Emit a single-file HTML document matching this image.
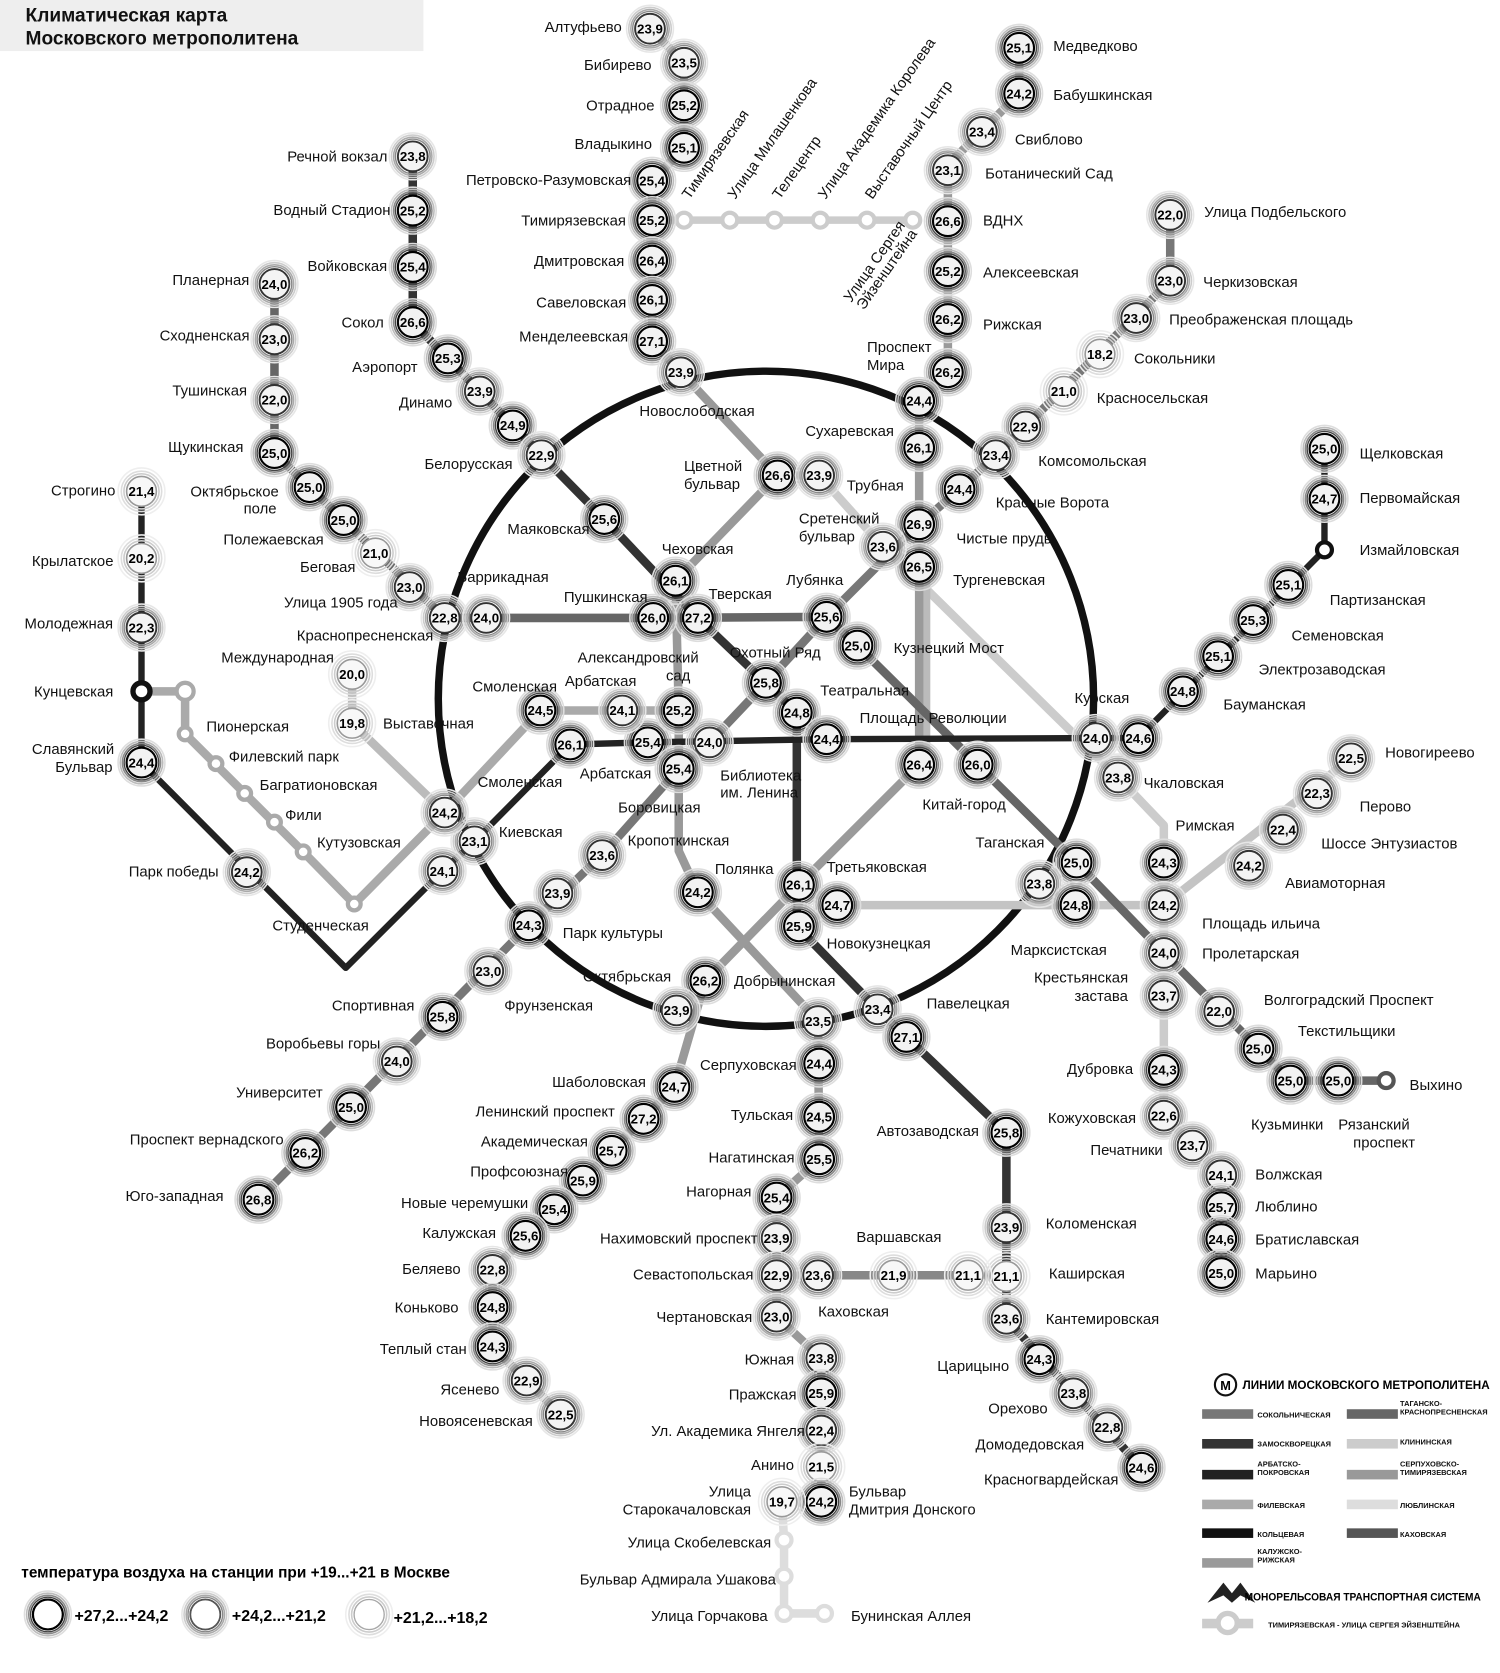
<!DOCTYPE html>
<html><head><meta charset="utf-8"><style>
html,body{margin:0;padding:0;background:#fff}
svg{display:block}
.l{font-family:"Liberation Sans Narrow","Liberation Sans",sans-serif;font-size:14px;fill:#111}
.n{font-family:"Liberation Sans",sans-serif;font-size:12.5px;font-weight:bold;fill:#000;text-anchor:middle}
.e{text-anchor:end}
.t{font-family:"Liberation Sans",sans-serif;font-weight:bold;font-size:18px;fill:#111}
.g{font-family:"Liberation Sans",sans-serif;font-weight:bold;font-size:7px;fill:#111}
</style></head><body>
<svg width="1500" height="1673" viewBox="0 0 1410 1573" preserveAspectRatio="none" xmlns="http://www.w3.org/2000/svg">
<defs>
<g id="a"><circle r="22" fill="none" stroke="#ddd" stroke-width="1.5"/><circle r="20" fill="none" stroke="#bbb" stroke-width="1.5"/><circle r="18" fill="none" stroke="#888" stroke-width="1.5"/><circle r="16.3" fill="none" stroke="#444" stroke-width="1.3"/><circle r="14" fill="#f2f2f2" stroke="#000" stroke-width="2"/></g>
<g id="b"><circle r="22" fill="none" stroke="#e6e6e6" stroke-width="1.5"/><circle r="20" fill="none" stroke="#ccc" stroke-width="1.5"/><circle r="18" fill="none" stroke="#aaa" stroke-width="1.5"/><circle r="16.3" fill="none" stroke="#888" stroke-width="1.3"/><circle r="14" fill="#f4f4f4" stroke="#333" stroke-width="1.8"/></g>
<g id="c"><circle r="22" fill="none" stroke="#eee" stroke-width="1.5"/><circle r="19" fill="none" stroke="#ddd" stroke-width="1.5"/><circle r="16.5" fill="none" stroke="#ccc" stroke-width="1.5"/><circle r="14" fill="#f8f8f8" stroke="#999" stroke-width="1.5"/></g>
</defs>
<rect x="0" y="0" width="398" height="48" fill="#eee"/>
<text class="t" x="24" y="20">Климатическая карта</text>
<text class="t" x="24" y="42">Московского метрополитена</text>

<circle cx="720" cy="657" r="308" fill="none" stroke="#111" stroke-width="7"/>

<g fill="none" stroke-linejoin="round" stroke-linecap="round">
<polyline points="770,447 830,514 1051,731 1094,776 1094,1049 1148,1105 1148,1197" stroke="#ccc" stroke-width="8"/>
<polyline points="787,851 1094,851 1270,713" stroke="#c4c4c4" stroke-width="8"/>
<line x1="871" y1="540" x2="871" y2="719" stroke="#bbb" stroke-width="7"/>
<polyline points="611,27 643,59 643,139 613,170 613,321 640,350 731,447 635,546 638,668 638,800 656,839 769,960 770,1090 730,1126 730,1238 772,1277 772,1412" stroke="#999" stroke-width="8"/>
<polyline points="735,1412 737,1448 737,1517 775,1517" stroke="#ddd" stroke-width="8"/>
<polyline points="958,45 958,88 891,155 891,350 864,377 864,719 751,832 663,922 634,1022 463,1194 463,1266 527,1330" stroke="#9a9a9a" stroke-width="8"/>
<polyline points="133,650 174,650 174,690 285,801 333,850 418,764 508,668 638,668" stroke="#aaa" stroke-width="8"/>
<polyline points="331,634 331,680 418,764" stroke="#bbb" stroke-width="8"/>
<polyline points="258,267 258,426 418,581 614,581 777,580 806,607 919,719 1012,811 1094,896 1183,986 1213,1016 1303,1016" stroke="#666" stroke-width="8"/>
<polyline points="1100,202 1100,264 964,401 936,428 902,460 864,493 777,580 720,642 667,698 638,723 566,804 497,870 243,1128" stroke="#777" stroke-width="8"/>
<polyline points="388,147 388,303 509,428 568,488 656,581 749,670 749,871 825,949 852,975 946,1065 946,1240 1073,1380" stroke="#333" stroke-width="8"/>
<line x1="769" y1="1199" x2="946" y2="1199" stroke="#888" stroke-width="8"/>
<polyline points="1245,422 1245,517 1070,694 1030,694 777,695 609,698 536,700 446,791 416,819 325,910 133,717 133,462" stroke="#222" stroke-width="6"/>
<line x1="613" y1="207" x2="858" y2="207" stroke="#ccc" stroke-width="7"/>
</g>
<g fill="#fff" stroke="#ccc" stroke-width="4">
<circle cx="643" cy="207" r="7"/><circle cx="686" cy="207" r="7"/><circle cx="728" cy="207" r="7"/><circle cx="771" cy="207" r="7"/><circle cx="815" cy="207" r="7"/><circle cx="858" cy="207" r="7"/>
<circle cx="737" cy="1448" r="7" stroke="#ddd"/><circle cx="737" cy="1482" r="7" stroke="#ddd"/><circle cx="737" cy="1517" r="7" stroke="#ddd"/><circle cx="775" cy="1517" r="7" stroke="#ddd"/>
<circle cx="174" cy="650" r="8" stroke="#aaa"/><circle cx="174" cy="690" r="6" stroke="#aaa"/><circle cx="203" cy="718" r="6" stroke="#aaa"/><circle cx="230" cy="746" r="6" stroke="#aaa"/><circle cx="258" cy="773" r="6" stroke="#aaa"/><circle cx="285" cy="801" r="6" stroke="#aaa"/><circle cx="333" cy="850" r="6" stroke="#aaa"/>
<circle cx="133" cy="650" r="8" stroke="#111" stroke-width="5"/><circle cx="1245" cy="517" r="7" stroke="#111" stroke-width="4"/><circle cx="1303" cy="1016" r="7" stroke="#555" stroke-width="4"/>
</g>

<g id="st">
<use href="#b" x="611" y="27"/><use href="#b" x="643" y="59"/><use href="#a" x="643" y="99"/><use href="#a" x="643" y="139"/><use href="#a" x="613" y="170"/><use href="#a" x="613" y="207"/><use href="#a" x="613" y="245"/><use href="#a" x="613" y="282"/><use href="#a" x="613" y="321"/><use href="#b" x="640" y="350"/>
<use href="#a" x="958" y="45"/><use href="#a" x="958" y="88"/><use href="#b" x="923" y="124"/><use href="#b" x="891" y="160"/><use href="#a" x="891" y="208"/><use href="#a" x="891" y="255"/><use href="#a" x="891" y="300"/><use href="#a" x="891" y="350"/><use href="#a" x="864" y="377"/><use href="#a" x="864" y="421"/><use href="#a" x="864" y="493"/><use href="#a" x="864" y="533"/><use href="#a" x="864" y="719"/><use href="#a" x="919" y="719"/>
<use href="#a" x="751" y="832"/><use href="#a" x="787" y="851"/><use href="#a" x="751" y="871"/><use href="#a" x="663" y="922"/><use href="#b" x="636" y="950"/><use href="#b" x="769" y="960"/><use href="#b" x="825" y="949"/><use href="#a" x="852" y="975"/>
<use href="#a" x="634" y="1022"/><use href="#a" x="605" y="1052"/><use href="#a" x="575" y="1082"/><use href="#a" x="548" y="1110"/><use href="#a" x="521" y="1137"/><use href="#a" x="494" y="1162"/><use href="#b" x="463" y="1194"/><use href="#a" x="463" y="1229"/><use href="#a" x="463" y="1266"/><use href="#b" x="495" y="1298"/><use href="#b" x="527" y="1330"/>
<use href="#b" x="1100" y="202"/><use href="#b" x="1100" y="264"/><use href="#b" x="1068" y="299"/><use href="#c" x="1034" y="333"/><use href="#c" x="1000" y="368"/><use href="#b" x="964" y="401"/><use href="#b" x="936" y="428"/><use href="#a" x="902" y="460"/>
<use href="#a" x="777" y="580"/><use href="#a" x="720" y="642"/><use href="#b" x="667" y="698"/><use href="#b" x="566" y="804"/><use href="#b" x="524" y="840"/><use href="#a" x="497" y="870"/><use href="#b" x="459" y="913"/><use href="#a" x="416" y="956"/><use href="#b" x="373" y="998"/><use href="#a" x="330" y="1041"/><use href="#a" x="287" y="1084"/><use href="#a" x="243" y="1128"/>
<use href="#b" x="388" y="147"/><use href="#a" x="388" y="198"/><use href="#a" x="388" y="251"/><use href="#a" x="388" y="303"/><use href="#a" x="421" y="337"/><use href="#b" x="451" y="368"/><use href="#a" x="482" y="400"/><use href="#b" x="509" y="428"/><use href="#a" x="568" y="488"/><use href="#a" x="635" y="546"/><use href="#a" x="656" y="581"/><use href="#a" x="749" y="670"/><use href="#a" x="946" y="1065"/><use href="#b" x="946" y="1154"/><use href="#c" x="946" y="1200"/><use href="#b" x="946" y="1240"/><use href="#a" x="977" y="1278"/><use href="#b" x="1009" y="1310"/><use href="#b" x="1041" y="1342"/><use href="#a" x="1073" y="1380"/>
<use href="#b" x="769" y="1199"/><use href="#c" x="840" y="1199"/><use href="#c" x="910" y="1199"/>
<use href="#b" x="258" y="267"/><use href="#b" x="258" y="319"/><use href="#b" x="258" y="376"/><use href="#a" x="258" y="426"/><use href="#a" x="291" y="458"/><use href="#a" x="323" y="489"/><use href="#c" x="353" y="520"/><use href="#b" x="385" y="552"/><use href="#b" x="418" y="581"/><use href="#b" x="457" y="581"/><use href="#a" x="614" y="581"/><use href="#a" x="806" y="607"/><use href="#a" x="1012" y="811"/><use href="#b" x="977" y="831"/><use href="#b" x="1094" y="896"/><use href="#b" x="1146" y="951"/><use href="#a" x="1183" y="986"/><use href="#a" x="1213" y="1016"/><use href="#a" x="1258" y="1016"/>
<use href="#b" x="1051" y="731"/><use href="#a" x="1094" y="811"/><use href="#b" x="1094" y="851"/><use href="#b" x="1094" y="936"/><use href="#a" x="1094" y="1006"/><use href="#b" x="1094" y="1049"/><use href="#b" x="1121" y="1077"/><use href="#b" x="1148" y="1105"/><use href="#a" x="1148" y="1135"/><use href="#a" x="1148" y="1165"/><use href="#a" x="1148" y="1197"/>
<use href="#b" x="1270" y="713"/><use href="#b" x="1238" y="746"/><use href="#b" x="1206" y="780"/><use href="#b" x="1174" y="814"/><use href="#a" x="1011" y="851"/>
<use href="#a" x="1245" y="422"/><use href="#a" x="1245" y="469"/><use href="#a" x="1211" y="550"/><use href="#a" x="1178" y="583"/><use href="#a" x="1145" y="617"/><use href="#a" x="1112" y="650"/><use href="#a" x="1070" y="694"/><use href="#b" x="1030" y="694"/><use href="#a" x="777" y="695"/><use href="#a" x="609" y="698"/><use href="#a" x="536" y="700"/><use href="#b" x="446" y="791"/><use href="#b" x="416" y="819"/><use href="#b" x="232" y="820"/><use href="#a" x="133" y="717"/><use href="#c" x="133" y="462"/><use href="#c" x="133" y="525"/><use href="#b" x="133" y="590"/>
<use href="#a" x="508" y="668"/><use href="#b" x="585" y="668"/><use href="#a" x="638" y="668"/><use href="#a" x="638" y="723"/><use href="#b" x="418" y="764"/><use href="#c" x="331" y="634"/><use href="#c" x="331" y="680"/>
<use href="#a" x="731" y="447"/><use href="#b" x="770" y="447"/><use href="#b" x="830" y="514"/><use href="#a" x="656" y="839"/>
<use href="#a" x="770" y="1000"/><use href="#a" x="770" y="1050"/><use href="#a" x="770" y="1090"/><use href="#a" x="730" y="1126"/><use href="#b" x="730" y="1164"/><use href="#b" x="730" y="1199"/><use href="#b" x="730" y="1238"/><use href="#b" x="772" y="1277"/><use href="#a" x="772" y="1310"/><use href="#b" x="772" y="1345"/><use href="#c" x="772" y="1379"/><use href="#a" x="772" y="1412"/><use href="#c" x="735" y="1412"/>
</g>

<g class="n" transform="translate(0,4.5)">
<text x="611" y="27">23,9</text><text x="643" y="59">23,5</text><text x="643" y="99">25,2</text><text x="643" y="139">25,1</text><text x="613" y="170">25,4</text><text x="613" y="207">25,2</text><text x="613" y="245">26,4</text><text x="613" y="282">26,1</text><text x="613" y="321">27,1</text><text x="640" y="350">23,9</text>
<text x="958" y="45">25,1</text><text x="958" y="88">24,2</text><text x="923" y="124">23,4</text><text x="891" y="160">23,1</text><text x="891" y="208">26,6</text><text x="891" y="255">25,2</text><text x="891" y="300">26,2</text><text x="891" y="350">26,2</text><text x="864" y="377">24,4</text><text x="864" y="421">26,1</text><text x="864" y="493">26,9</text><text x="864" y="533">26,5</text><text x="864" y="719">26,4</text><text x="919" y="719">26,0</text>
<text x="751" y="832">26,1</text><text x="787" y="851">24,7</text><text x="751" y="871">25,9</text><text x="663" y="922">26,2</text><text x="636" y="950">23,9</text><text x="769" y="960">23,5</text><text x="825" y="949">23,4</text><text x="852" y="975">27,1</text>
<text x="634" y="1022">24,7</text><text x="605" y="1052">27,2</text><text x="575" y="1082">25,7</text><text x="548" y="1110">25,9</text><text x="521" y="1137">25,4</text><text x="494" y="1162">25,6</text><text x="463" y="1194">22,8</text><text x="463" y="1229">24,8</text><text x="463" y="1266">24,3</text><text x="495" y="1298">22,9</text><text x="527" y="1330">22,5</text>
<text x="1100" y="202">22,0</text><text x="1100" y="264">23,0</text><text x="1068" y="299">23,0</text><text x="1034" y="333">18,2</text><text x="1000" y="368">21,0</text><text x="964" y="401">22,9</text><text x="936" y="428">23,4</text><text x="902" y="460">24,4</text>
<text x="777" y="580">25,6</text><text x="720" y="642">25,8</text><text x="667" y="698">24,0</text><text x="566" y="804">23,6</text><text x="524" y="840">23,9</text><text x="497" y="870">24,3</text><text x="459" y="913">23,0</text><text x="416" y="956">25,8</text><text x="373" y="998">24,0</text><text x="330" y="1041">25,0</text><text x="287" y="1084">26,2</text><text x="243" y="1128">26,8</text>
<text x="388" y="147">23,8</text><text x="388" y="198">25,2</text><text x="388" y="251">25,4</text><text x="388" y="303">26,6</text><text x="421" y="337">25,3</text><text x="451" y="368">23,9</text><text x="482" y="400">24,9</text><text x="509" y="428">22,9</text><text x="568" y="488">25,6</text><text x="635" y="546">26,1</text><text x="656" y="581">27,2</text><text x="749" y="670">24,8</text><text x="946" y="1065">25,8</text><text x="946" y="1154">23,9</text><text x="946" y="1200">21,1</text><text x="946" y="1240">23,6</text><text x="977" y="1278">24,3</text><text x="1009" y="1310">23,8</text><text x="1041" y="1342">22,8</text><text x="1073" y="1380">24,6</text>
<text x="769" y="1199">23,6</text><text x="840" y="1199">21,9</text><text x="910" y="1199">21,1</text>
<text x="258" y="267">24,0</text><text x="258" y="319">23,0</text><text x="258" y="376">22,0</text><text x="258" y="426">25,0</text><text x="291" y="458">25,0</text><text x="323" y="489">25,0</text><text x="353" y="520">21,0</text><text x="385" y="552">23,0</text><text x="418" y="581">22,8</text><text x="457" y="581">24,0</text><text x="614" y="581">26,0</text><text x="806" y="607">25,0</text><text x="1012" y="811">25,0</text><text x="977" y="831">23,8</text><text x="1094" y="896">24,0</text><text x="1146" y="951">22,0</text><text x="1183" y="986">25,0</text><text x="1213" y="1016">25,0</text><text x="1258" y="1016">25,0</text>
<text x="1051" y="731">23,8</text><text x="1094" y="811">24,3</text><text x="1094" y="851">24,2</text><text x="1094" y="936">23,7</text><text x="1094" y="1006">24,3</text><text x="1094" y="1049">22,6</text><text x="1121" y="1077">23,7</text><text x="1148" y="1105">24,1</text><text x="1148" y="1135">25,7</text><text x="1148" y="1165">24,6</text><text x="1148" y="1197">25,0</text>
<text x="1270" y="713">22,5</text><text x="1238" y="746">22,3</text><text x="1206" y="780">22,4</text><text x="1174" y="814">24,2</text><text x="1011" y="851">24,8</text>
<text x="1245" y="422">25,0</text><text x="1245" y="469">24,7</text><text x="1211" y="550">25,1</text><text x="1178" y="583">25,3</text><text x="1145" y="617">25,1</text><text x="1112" y="650">24,8</text><text x="1070" y="694">24,6</text><text x="1030" y="694">24,0</text><text x="777" y="695">24,4</text><text x="609" y="698">25,4</text><text x="536" y="700">26,1</text><text x="446" y="791">23,1</text><text x="416" y="819">24,1</text><text x="232" y="820">24,2</text><text x="133" y="717">24,4</text><text x="133" y="462">21,4</text><text x="133" y="525">20,2</text><text x="133" y="590">22,3</text>
<text x="508" y="668">24,5</text><text x="585" y="668">24,1</text><text x="638" y="668">25,2</text><text x="638" y="723">25,4</text><text x="418" y="764">24,2</text><text x="331" y="634">20,0</text><text x="331" y="680">19,8</text>
<text x="731" y="447">26,6</text><text x="770" y="447">23,9</text><text x="830" y="514">23,6</text><text x="656" y="839">24,2</text>
<text x="770" y="1000">24,4</text><text x="770" y="1050">24,5</text><text x="770" y="1090">25,5</text><text x="730" y="1126">25,4</text><text x="730" y="1164">23,9</text><text x="730" y="1199">22,9</text><text x="730" y="1238">23,0</text><text x="772" y="1277">23,8</text><text x="772" y="1310">25,9</text><text x="772" y="1345">22,4</text><text x="772" y="1379">21,5</text><text x="772" y="1412">24,2</text><text x="735" y="1412">19,7</text>
</g>

<g class="l" transform="translate(0,5)">
<text x="512" y="25">Алтуфьево</text><text x="549" y="61">Бибирево</text><text x="551" y="99">Отрадное</text><text x="540" y="135">Владыкино</text><text x="438" y="169">Петровско-Разумовская</text><text x="490" y="207">Тимирязевская</text><text x="502" y="245">Дмитровская</text><text x="504" y="284">Савеловская</text><text x="488" y="316">Менделеевская</text><text x="601" y="386">Новослободская</text>
<text x="990" y="43">Медведково</text><text x="990" y="89">Бабушкинская</text><text x="954" y="131">Свиблово</text><text x="926" y="163">Ботанический Сад</text><text x="924" y="207">ВДНХ</text><text x="924" y="256">Алексеевская</text><text x="924" y="305">Рижская</text><text x="815" y="326">Проспект</text><text x="815" y="343">Мира</text><text x="757" y="405">Сухаревская</text><text x="796" y="456">Трубная</text><text x="751" y="487">Сретенский</text><text x="751" y="504">бульвар</text><text x="899" y="506">Чистые пруды</text><text x="936" y="472">Красные Ворота</text><text x="896" y="545">Тургеневская</text><text x="840" y="609">Кузнецкий Мост</text>
<text x="1132" y="199">Улица Подбельского</text><text x="1131" y="265">Черкизовская</text><text x="1099" y="300">Преображенская площадь</text><text x="1066" y="337">Сокольники</text><text x="1031" y="374">Красносельская</text><text x="976" y="433">Комсомольская</text>
<text x="1278" y="426">Щелковская</text><text x="1278" y="468">Первомайская</text><text x="1278" y="517">Измайловская</text><text x="1250" y="564">Партизанская</text><text x="1214" y="597">Семеновская</text><text x="1183" y="629">Электрозаводская</text><text x="1150" y="662">Бауманская</text><text x="1010" y="656">Курская</text><text x="1075" y="736">Чкаловская</text><text x="1105" y="776">Римская</text>
<text x="1302" y="707">Новогиреево</text><text x="1278" y="758">Перово</text><text x="1242" y="793">Шоссе Энтузиастов</text><text x="1208" y="830">Авиамоторная</text><text x="1130" y="868">Площадь ильича</text><text x="1130" y="896">Пролетарская</text><text x="950" y="893">Марксистская</text><text x="972" y="919">Крестьянская</text><text x="1010" y="936">застава</text><text x="1188" y="940">Волгоградский Проспект</text><text x="1220" y="969">Текстильщики</text><text x="1325" y="1020">Выхино</text><text x="1176" y="1057">Кузьминки</text><text x="1258" y="1057">Рязанский</text><text x="1272" y="1074">проспект</text>
<text x="1003" y="1005">Дубровка</text><text x="985" y="1051">Кожуховская</text><text x="1025" y="1081">Печатники</text><text x="1180" y="1104">Волжская</text><text x="1180" y="1134">Люблино</text><text x="1180" y="1165">Братиславская</text><text x="1180" y="1197">Марьино</text>
<text x="917" y="792">Таганская</text><text x="867" y="756">Китай-город</text><text x="808" y="675">Площадь Революции</text><text x="771" y="649">Театральная</text><text x="739" y="545">Лубянка</text><text x="666" y="558">Тверская</text><text x="686" y="613">Охотный Ряд</text><text x="622" y="516">Чеховская</text><text x="530" y="561">Пушкинская</text><text x="643" y="438">Цветной</text><text x="643" y="455">бульвар</text><text x="477" y="497">Маяковская</text><text x="399" y="436">Белорусская</text>
<text x="375" y="378">Динамо</text><text x="331" y="345">Аэропорт</text><text x="321" y="303">Сокол</text><text x="289" y="250">Войковская</text><text x="257" y="197">Водный Стадион</text><text x="270" y="147">Речной вокзал</text>
<text x="162" y="263">Планерная</text><text x="150" y="315">Сходненская</text><text x="162" y="367">Тушинская</text><text x="158" y="420">Щукинская</text><text x="179" y="462">Октябрьское</text><text x="229" y="478">поле</text><text x="210" y="507">Полежаевская</text><text x="282" y="533">Беговая</text><text x="267" y="566">Улица 1905 года</text><text x="279" y="597">Краснопресненская</text><text x="430" y="542">Баррикадная</text><text x="208" y="618">Международная</text><text x="360" y="680">Выставочная</text>
<text x="48" y="461">Строгино</text><text x="30" y="527">Крылатское</text><text x="23" y="586">Молодежная</text><text x="32" y="650">Кунцевская</text><text x="30" y="704">Славянский</text><text x="52" y="721">Бульвар</text>
<text x="194" y="683">Пионерская</text><text x="215" y="711">Филевский парк</text><text x="244" y="738">Багратионовская</text><text x="268" y="766">Фили</text><text x="298" y="792">Кутузовская</text><text x="121" y="819">Парк победы</text><text x="256" y="870">Студенческая</text>
<text x="444" y="645">Смоленская</text><text x="531" y="640">Арбатская</text><text x="543" y="618">Александровский</text><text x="626" y="635">сад</text><text x="449" y="735">Смоленская</text><text x="545" y="727">Арбатская</text><text x="677" y="729">Библиотека</text><text x="677" y="745">им. Ленина</text><text x="581" y="759">Боровицкая</text><text x="590" y="790">Кропоткинская</text><text x="469" y="782">Киевская</text><text x="672" y="817">Полянка</text><text x="777" y="815">Третьяковская</text><text x="777" y="887">Новокузнецкая</text><text x="871" y="943">Павелецкая</text><text x="690" y="922">Добрынинская</text><text x="548" y="918">Октябрьская</text><text x="529" y="877">Парк культуры</text><text x="474" y="945">Фрунзенская</text>
<text x="312" y="945">Спортивная</text><text x="250" y="981">Воробьевы горы</text><text x="222" y="1027">Университет</text><text x="122" y="1071">Проспект вернадского</text><text x="118" y="1124">Юго-западная</text>
<text x="658" y="1001">Серпуховская</text><text x="687" y="1048">Тульская</text><text x="666" y="1088">Нагатинская</text><text x="645" y="1120">Нагорная</text><text x="564" y="1164">Нахимовский проспект</text><text x="595" y="1198">Севастопольская</text><text x="617" y="1238">Чертановская</text><text x="700" y="1278">Южная</text><text x="685" y="1311">Пражская</text><text x="612" y="1345">Ул. Академика Янгеля</text><text x="706" y="1377">Анино</text><text x="706" y="1402" class="l e">Улица</text><text x="706" y="1419" class="l e">Старокачаловская</text><text x="798" y="1402">Бульвар</text><text x="798" y="1419">Дмитрия Донского</text><text x="590" y="1450">Улица Скобелевская</text><text x="545" y="1485">Бульвар Адмирала Ушакова</text><text x="612" y="1519">Улица Горчакова</text><text x="800" y="1519">Бунинская Аллея</text>
<text x="805" y="1163">Варшавская</text><text x="769" y="1233">Каховская</text><text x="983" y="1150">Коломенская</text><text x="986" y="1197">Каширская</text><text x="983" y="1240">Кантемировская</text><text x="881" y="1284">Царицыно</text><text x="929" y="1324">Орехово</text><text x="917" y="1358">Домодедовская</text><text x="925" y="1391">Красногвардейская</text><text x="824" y="1063">Автозаводская</text>
<text x="519" y="1017">Шаболовская</text><text x="447" y="1045">Ленинский проспект</text><text x="452" y="1073">Академическая</text><text x="442" y="1101">Профсоюзная</text><text x="377" y="1131">Новые черемушки</text><text x="397" y="1159">Калужская</text><text x="378" y="1193">Беляево</text><text x="371" y="1229">Коньково</text><text x="357" y="1268">Теплый стан</text><text x="414" y="1306">Ясенево</text><text x="394" y="1336">Новоясеневская</text>
</g>
<g class="l">
<text transform="translate(648,188) rotate(-55)">Тимирязевская</text>
<text transform="translate(691,188) rotate(-55)">Улица Милашенкова</text>
<text transform="translate(733,188) rotate(-55)">Телецентр</text>
<text transform="translate(776,188) rotate(-55)">Улица Академика Королева</text>
<text transform="translate(820,188) rotate(-55)">Выставочный Центр</text>
<text transform="translate(800,285) rotate(-55)">Улица Сергея</text>
<text transform="translate(812,292) rotate(-55)">Эйзенштейна</text>
</g>

<text x="20" y="1483" style="font-family:'Liberation Sans',sans-serif;font-weight:bold;font-size:14.5px">температура воздуха на станции при +19...+21 в Москве</text>
<use href="#a" x="45" y="1518"/><circle cx="45" cy="1518" r="14" fill="#fff" stroke="#000" stroke-width="2"/>
<use href="#b" x="193" y="1518"/><circle cx="193" cy="1518" r="14" fill="#fff" stroke="#555" stroke-width="1.5"/>
<use href="#c" x="347" y="1518"/><circle cx="347" cy="1518" r="14" fill="#fff" stroke="#aaa" stroke-width="1"/>
<g style="font-family:'Liberation Sans',sans-serif;font-weight:bold;font-size:15px">
<text x="70" y="1524">+27,2...+24,2</text><text x="218" y="1524">+24,2...+21,2</text><text x="370" y="1526">+21,2...+18,2</text>
</g>

<circle cx="1152" cy="1302" r="10" fill="#fff" stroke="#111" stroke-width="2"/>
<text x="1152" y="1307" text-anchor="middle" style="font-family:'Liberation Sans',sans-serif;font-weight:bold;font-size:12px">М</text>
<text x="1168" y="1306" style="font-family:'Liberation Sans',sans-serif;font-weight:bold;font-size:11px">ЛИНИИ МОСКОВСКОГО МЕТРОПОЛИТЕНА</text>
<rect x="1130" y="1325" width="48" height="9" fill="#777"/><text class="g" x="1182" y="1333">СОКОЛЬНИЧЕСКАЯ</text>
<rect x="1130" y="1353" width="48" height="9" fill="#333"/><text class="g" x="1182" y="1360">ЗАМОСКВОРЕЦКАЯ</text>
<rect x="1130" y="1382" width="48" height="9" fill="#222"/><text class="g" x="1182" y="1379">АРБАТСКО-</text><text class="g" x="1182" y="1387">ПОКРОВСКАЯ</text>
<rect x="1130" y="1410" width="48" height="9" fill="#aaa"/><text class="g" x="1182" y="1418">ФИЛЕВСКАЯ</text>
<rect x="1130" y="1437" width="48" height="9" fill="#111"/><text class="g" x="1182" y="1445">КОЛЬЦЕВАЯ</text>
<rect x="1130" y="1465" width="48" height="9" fill="#9a9a9a"/><text class="g" x="1182" y="1461">КАЛУЖСКО-</text><text class="g" x="1182" y="1469">РИЖСКАЯ</text>
<rect x="1266" y="1325" width="48" height="9" fill="#666"/><text class="g" x="1316" y="1322">ТАГАНСКО-</text><text class="g" x="1316" y="1330">КРАСНОПРЕСНЕНСКАЯ</text>
<rect x="1266" y="1353" width="48" height="9" fill="#ccc"/><text class="g" x="1316" y="1358">КЛИНИНСКАЯ</text>
<rect x="1266" y="1382" width="48" height="9" fill="#999"/><text class="g" x="1316" y="1379">СЕРПУХОВСКО-</text><text class="g" x="1316" y="1387">ТИМИРЯЗЕВСКАЯ</text>
<rect x="1266" y="1410" width="48" height="9" fill="#ddd"/><text class="g" x="1316" y="1418">ЛЮБЛИНСКАЯ</text>
<rect x="1266" y="1437" width="48" height="9" fill="#555"/><text class="g" x="1316" y="1445">КАХОВСКАЯ</text>
<path d="M1135,1507 L1150,1488 L1158,1498 L1166,1488 L1180,1507 L1166,1500 L1158,1507 L1150,1500 Z" fill="#222"/>
<text x="1170" y="1505" textLength="222" lengthAdjust="spacingAndGlyphs" style="font-family:'Liberation Sans',sans-serif;font-weight:bold;font-size:10.5px">МОНОРЕЛЬСОВАЯ ТРАНСПОРТНАЯ СИСТЕМА</text>
<rect x="1130" y="1522" width="48" height="9" fill="#ccc"/><circle cx="1154" cy="1526" r="9" fill="#fff" stroke="#ccc" stroke-width="5"/>
<text class="g" x="1192" y="1530">ТИМИРЯЗЕВСКАЯ - УЛИЦА СЕРГЕЯ ЭЙЗЕНШТЕЙНА</text>
</svg>
</body></html>
